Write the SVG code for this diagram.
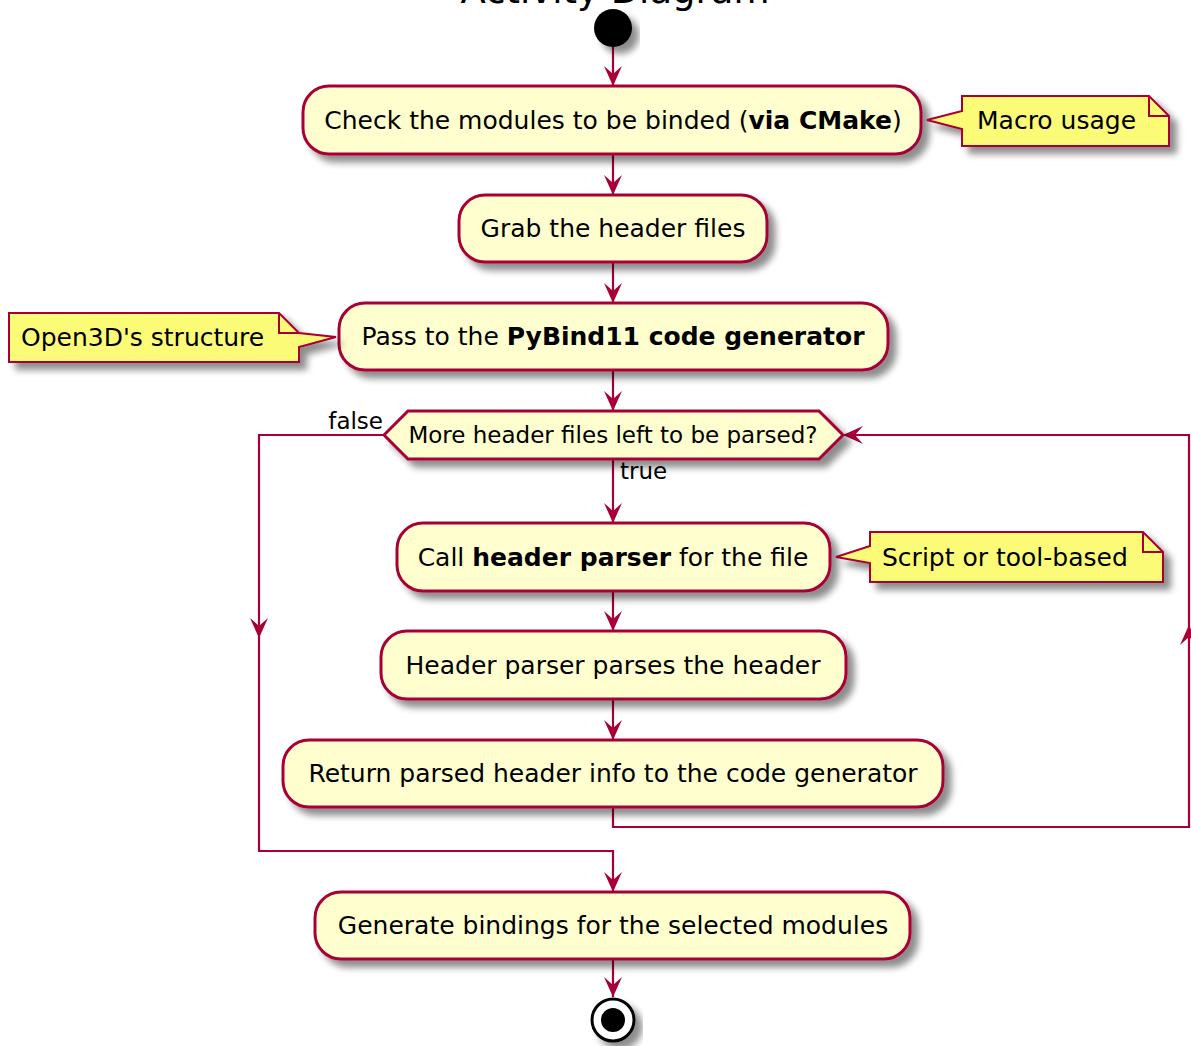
<svg xmlns="http://www.w3.org/2000/svg" width="1191" height="1046" viewBox="0 0 1191 1046">
<style>
.act{fill:#FEFECE;stroke:#A80036;stroke-width:3}
.note{fill:#FBFB77;stroke:#A80036;stroke-width:2}
.fold{fill:none;stroke:#A80036;stroke-width:2}
.edge{fill:none;stroke:#A80036;stroke-width:2.2}
.t{font-family:"DejaVu Sans",sans-serif;font-size:25px;fill:#000}
.s{font-family:"DejaVu Sans",sans-serif;font-size:23px;fill:#000}
.b{font-weight:bold}
</style>
<defs>
<filter id="sh" x="-10%" y="-20%" width="130%" height="160%">
<feGaussianBlur in="SourceAlpha" stdDeviation="3.5"/>
<feOffset dx="7" dy="7" result="o"/>
<feComponentTransfer><feFuncA type="linear" slope="0.45"/></feComponentTransfer>
<feMerge><feMergeNode/><feMergeNode in="SourceGraphic"/></feMerge>
</filter>
<marker id="ah" viewBox="-21 -10 22 20" refX="0" refY="0" markerWidth="22" markerHeight="20" markerUnits="userSpaceOnUse" orient="auto">
<path d="M0,0 L-20,-9 L-12,0 L-20,9 Z" fill="#A80036"/>
</marker>
</defs>
<rect width="1191" height="1046" fill="#fff"/>
<text x="615" y="3" text-anchor="middle" font-family="DejaVu Sans, sans-serif" font-size="37" fill="#000">Activity Diagram</text>

<g id="connectors">
<path class="edge" d="M613,47 L613,86" marker-end="url(#ah)"/>
<path class="edge" d="M613,154 L613,195" marker-end="url(#ah)"/>
<path class="edge" d="M613,262 L613,303" marker-end="url(#ah)"/>
<path class="edge" d="M613,370 L613,411" marker-end="url(#ah)"/>
<path class="edge" d="M613,459 L613,523" marker-end="url(#ah)"/>
<path class="edge" d="M613,591 L613,631" marker-end="url(#ah)"/>
<path class="edge" d="M613,699 L613,740" marker-end="url(#ah)"/>
<path class="edge" d="M613,807 L613,827 L1189,827 L1189,625" marker-end="url(#ah)"/>
<path class="edge" d="M1189,625 L1189,435 L843,435" marker-end="url(#ah)"/>
<path class="edge" d="M384,435 L259,435 L259,638" marker-end="url(#ah)"/>
<path class="edge" d="M259,638 L259,851 L613,851 L613,892" marker-end="url(#ah)"/>
<path class="edge" d="M613,959 L613,997" marker-end="url(#ah)"/>
<text class="s" x="383" y="429" text-anchor="end">false</text>
<text class="s" x="620" y="479">true</text>
</g>

<g id="start"><circle cx="613" cy="28" r="19" fill="#000" filter="url(#sh)"/></g>

<g id="n1">
<rect class="act" x="303" y="86" width="618" height="68" rx="26" filter="url(#sh)"/>
<text class="t" x="613" y="129" text-anchor="middle">Check the modules to be binded (<tspan class="b">via CMake</tspan>)</text>
</g>
<g id="note1">
<path class="note" d="M962,96 L1149,96 L1169,116 L1169,146 L962,146 L962,129 L927,120 L962,111 Z" filter="url(#sh)"/>
<path class="fold" d="M1149,96 L1149,116 L1169,116"/>
<text class="t" x="977" y="129">Macro usage</text>
</g>

<g id="n2">
<rect class="act" x="459" y="195" width="308" height="67" rx="26" filter="url(#sh)"/>
<text class="t" x="613" y="237" text-anchor="middle">Grab the header files</text>
</g>

<g id="n3">
<rect class="act" x="339" y="303" width="549" height="67" rx="26" filter="url(#sh)"/>
<text class="t" x="613" y="345" text-anchor="middle">Pass to the <tspan class="b">PyBind11 code generator</tspan></text>
</g>
<g id="note2">
<path class="note" d="M9,313 L279,313 L299,333 L299,333 L336,337 L299,347 L299,362 L9,362 Z" filter="url(#sh)"/>
<path class="fold" d="M279,313 L279,333 L299,333"/>
<text class="t" x="21" y="346">Open3D's structure</text>
</g>

<g id="decision">
<polygon class="act" points="384,435 408,411 819,411 843,435 819,459 408,459" filter="url(#sh)"/>
<text class="s" x="613" y="443" text-anchor="middle">More header files left to be parsed?</text>
</g>

<g id="n4">
<rect class="act" x="397" y="523" width="433" height="68" rx="26" filter="url(#sh)"/>
<text class="t" x="613" y="566" text-anchor="middle">Call <tspan class="b">header parser</tspan> for the file</text>
</g>
<g id="note3">
<path class="note" d="M870,532 L1143,532 L1163,552 L1163,582 L870,582 L870,563 L836,557 L870,546 Z" filter="url(#sh)"/>
<path class="fold" d="M1143,532 L1143,552 L1163,552"/>
<text class="t" x="882" y="566">Script or tool-based</text>
</g>

<g id="n5">
<rect class="act" x="381" y="631" width="465" height="68" rx="26" filter="url(#sh)"/>
<text class="t" x="613" y="674" text-anchor="middle">Header parser parses the header</text>
</g>

<g id="n6">
<rect class="act" x="283" y="740" width="660" height="67" rx="26" filter="url(#sh)"/>
<text class="t" x="613" y="782" text-anchor="middle">Return parsed header info to the code generator</text>
</g>

<g id="n7">
<rect class="act" x="315" y="892" width="595" height="67" rx="26" filter="url(#sh)"/>
<text class="t" x="613" y="934" text-anchor="middle">Generate bindings for the selected modules</text>
</g>

<g id="end">
<circle cx="613" cy="1020" r="21" fill="#fff" stroke="#000" stroke-width="3" filter="url(#sh)"/>
<circle cx="613" cy="1020" r="12" fill="#000"/>
</g>
</svg>
